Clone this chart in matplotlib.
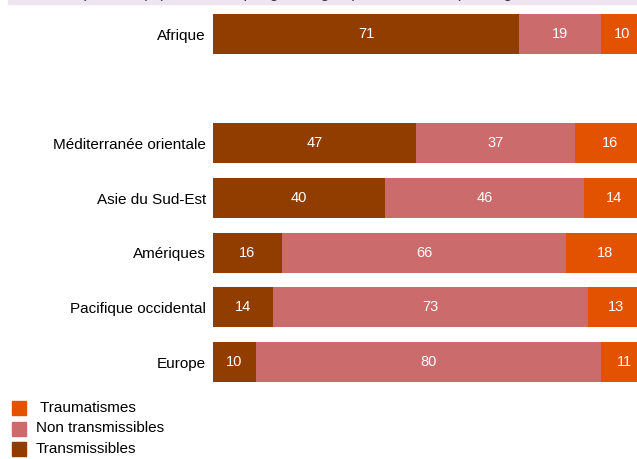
import matplotlib
matplotlib.use("Agg")
import matplotlib.pyplot as plt
import numpy as np
from matplotlib.patches import Rectangle

plt.rcParams['font.family'] = ['Liberation Sans', 'DejaVu Sans']

regions = ["Afrique", "Méditerranée orientale", "Asie du Sud-Est",
           "Amériques", "Pacifique occidental", "Europe"]
transmissibles = [71, 47, 40, 16, 14, 10]
non_transmissibles = [19, 37, 46, 66, 73, 80]
traumatismes = [10, 16, 14, 18, 13, 11]
series_names = ["Transmissibles", "Non transmissibles", "Traumatismes"]
colors = ["#913D00", "#CC6B6B", "#E35200"]
title = "Répartition (%) des décès par grands groupes de causes, par Région OMS"

W, H = 637, 459
fig = plt.figure(figsize=(W / 100, H / 100), dpi=100)

# axes geometry in pixels
left_px, right_px = 213, 637
top_px, bottom_px = 0, 390
ax = fig.add_axes([left_px / W, (H - bottom_px) / H,
                   (right_px - left_px) / W, (bottom_px - top_px) / H])

n = len(regions)
# Europe at 0 ... Méditerranée at 4, gap, Afrique at 6
ypos = np.arange(n)[::-1].astype(float)
ypos[0] += 1

data = [transmissibles, non_transmissibles, traumatismes]
lefts = np.zeros(n)
for vals, col in zip(data, colors):
    vals = np.array(vals, dtype=float)
    ax.barh(ypos, vals, left=lefts, height=0.73, color=col, edgecolor='none')
    for y, l, v in zip(ypos, lefts, vals):
        ax.text(l + v / 2, y, f"{int(v)}", ha='center', va='center',
                color='white', fontsize=10.5)
    lefts += vals

ax.set_xlim(0, (right_px - left_px) / 4.31)
ax.set_ylim(-0.512, 6.622)
ax.set_yticks(ypos)
ax.set_yticklabels(regions, fontsize=11)
ax.tick_params(axis='y', length=0, pad=5)
ax.set_xticks([])
for s in ax.spines.values():
    s.set_visible(False)

# title band (mostly cut off)
fig.patches.append(Rectangle((8 / W, (H - 4) / H), (W - 8) / W, 4 / H,
                             transform=fig.transFigure, color="#EFE4F1",
                             zorder=0))
fig.text(318 / W, (H + 2) / H, title, ha='center', va='baseline',
         fontsize=11, color='#333333')

# legend
leg_items = [(" Traumatismes", colors[2]), ("Non transmissibles", colors[1]),
             ("Transmissibles", colors[0])]
for i, (lab, col) in enumerate(leg_items):
    yc = 408 + i * 20.5
    fig.patches.append(Rectangle((12 / W, (H - yc - 7) / H), 14 / W, 14 / H,
                                 transform=fig.transFigure, color=col))
    fig.text(36 / W, (H - yc) / H, lab, ha='left', va='center', fontsize=11)

fig.savefig("out.png", dpi=100)
